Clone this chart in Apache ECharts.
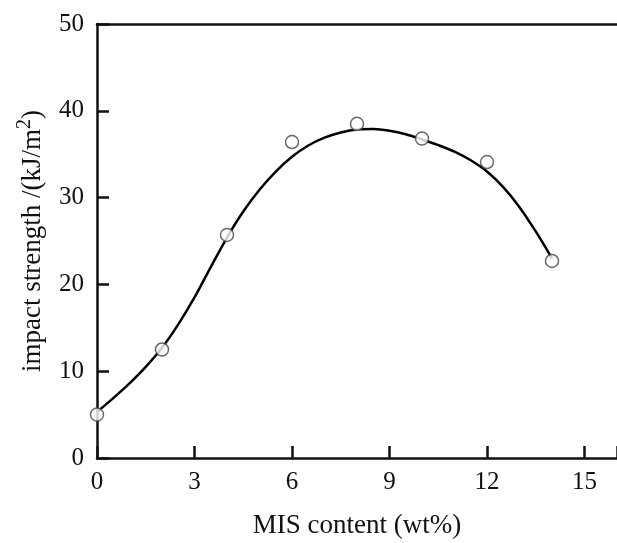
<!DOCTYPE html>
<html>
<head>
<meta charset="utf-8">
<script src="https://cdn.jsdelivr.net/npm/echarts@6/dist/echarts.min.js"></script>
<style>
html, body { margin: 0; padding: 0; background: #fff; }
#chart { width: 617px; height: 543px; }
</style>
</head>
<body>
<div id="chart"></div>
<script>
// measured points
var contents = [0, 2, 4, 6, 8, 10, 12, 14];
var strengths = [5.0, 12.5, 25.7, 36.4, 38.5, 36.8, 34.1, 22.7];

// fitted curve
var fitX = [0, 0.5, 1, 1.5, 2, 2.5, 3, 3.5, 4, 4.5, 5, 5.5, 6, 6.5, 7, 7.5, 8, 8.5, 9, 9.5, 10, 10.5, 11, 11.5, 12, 12.5, 13, 13.5, 14];
var fitY = [5.3, 6.9, 8.6, 10.5, 12.7, 15.4, 18.5, 22.0, 25.4, 28.4, 30.9, 33.0, 34.7, 36.0, 36.9, 37.5, 37.85, 37.9, 37.7, 37.3, 36.7, 36.05, 35.3, 34.3, 33.0, 31.2, 28.9, 26.1, 23.0];

var xTicks = [0, 3, 6, 9, 12, 15];

var font = 'Liberation Serif';

var dom = document.getElementById('chart');
var myChart = echarts.init(dom);

function pairs(xs, ys) {
    return xs.map(function (x, i) { return [x, ys[i]]; });
}

var option = {
    animation: false,
    grid: { left: 97, right: 0, top: 24, bottom: 85, containLabel: false, outerBoundsMode: 'none' },
    xAxis: [{
        type: 'value',
        min: 0, max: 16, interval: 3,
        name: 'MIS content (wt%)',
        nameLocation: 'middle',
        nameGap: 54,
        nameTextStyle: { fontFamily: font, fontSize: 27, color: '#111' },
        axisLine: { lineStyle: { color: '#111', width: 2.5 } },
        axisTick: { inside: true, length: 12, lineStyle: { color: '#111', width: 2.5 } },
        axisLabel: {
            fontFamily: font, fontSize: 25, color: '#111', margin: 12,
            formatter: function (v) { return xTicks.indexOf(v) >= 0 ? String(v) : ''; }
        },
        splitLine: { show: false }
    }, {
        type: 'value', position: 'top', min: 0, max: 16,
        axisLine: { show: true, onZero: false, lineStyle: { color: '#111', width: 2.5 } },
        axisTick: { show: false }, axisLabel: { show: false }, splitLine: { show: false }
    }],
    yAxis: {
        type: 'value',
        min: 0, max: 50, interval: 10,
        name: 'impact strength /(kJ/m{sup|2}{p|)}',
        nameLocation: 'middle',
        nameGap: 46,
        nameTextStyle: {
            fontFamily: font, fontSize: 27, color: '#111',
            rich: {
                sup: { fontFamily: font, fontSize: 20, color: '#111', padding: [0, 0, 16, 0] },
                p: { fontFamily: font, fontSize: 27, color: '#111' }
            }
        },
        axisLine: { show: true, lineStyle: { color: '#111', width: 2.5 } },
        axisTick: { show: true, inside: true, length: 12, lineStyle: { color: '#111', width: 2.5 } },
        axisLabel: { fontFamily: font, fontSize: 25, color: '#111', margin: 13 },
        splitLine: { show: false }
    },
    series: [
        {
            name: 'fit',
            type: 'line',
            data: pairs(fitX, fitY),
            smooth: 0.3,
            showSymbol: false,
            symbol: 'none',
            lineStyle: { color: '#000', width: 2.5 },
            z: 2
        },
        {
            name: 'measured',
            type: 'scatter',
            data: pairs(contents, strengths),
            symbol: 'circle',
            symbolSize: 13,
            itemStyle: { color: '#fff', borderColor: '#444', borderWidth: 1.5 },
            z: 3
        }
    ]
};

if (option && typeof option === 'object') {
    myChart.setOption(option, false);
}
window.onresize = myChart.resize;
</script>
</body>
</html>
